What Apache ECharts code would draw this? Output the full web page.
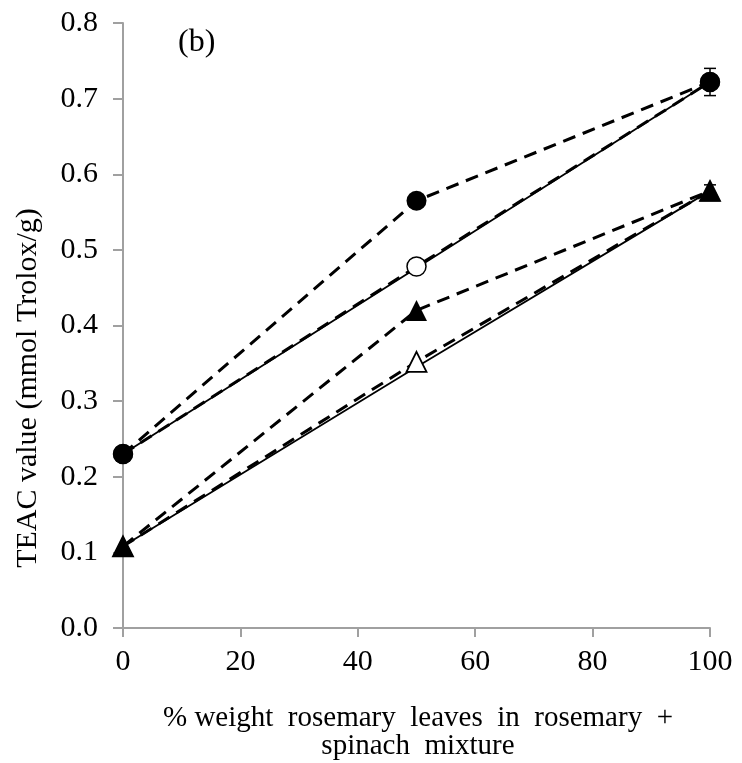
<!DOCTYPE html>
<html>
<head>
<meta charset="utf-8">
<script src="https://cdn.jsdelivr.net/npm/echarts@6/dist/echarts.min.js"></script>
<style>
  html, body { margin: 0; padding: 0; background: #fff; }
  #chart { width: 742px; height: 763px; }
</style>
</head>
<body>
<div id="chart"></div>
<script>
// % weight of rosemary leaves in the rosemary + spinach mixture
const rosemaryPct = [0, 50, 100];

// TEAC values (mmol Trolox/g)
const circleMeasured = [0.230, 0.565, 0.722];   // filled circles, dashed
const circleExpected = [0.230, 0.478, 0.722];   // open circles
const circleLinear   = [0.230, 0.476, 0.722];   // solid reference line
const triMeasured    = [0.108, 0.420, 0.578];   // filled triangles, dashed
const triExpected    = [0.108, 0.352, 0.578];   // open triangles
const triLinear      = [0.108, 0.345, 0.578];   // solid reference line

// Standard deviations at 100 % rosemary
const circleErr = [0, 0, 0.018];
const triErr    = [0, 0, 0.008];

const xTicks = [0, 20, 40, 60, 80, 100];
const yTicks = [0.0, 0.1, 0.2, 0.3, 0.4, 0.5, 0.6, 0.7, 0.8];

const FONT = "'Liberation Serif', 'Times New Roman', serif";
const AXIS_GREY = '#a0a0a0';

const pairs = vals => rosemaryPct.map((x, i) => [x, vals[i]]);

function errorSeries(vals, errs) {
  const data = rosemaryPct.map((x, i) => [x, vals[i], errs[i]]).filter(d => d[2] > 0);
  return {
    type: 'custom',
    z: 1,
    silent: true,
    data: data,
    renderItem: function (params, api) {
      const x = api.value(0), y = api.value(1), e = api.value(2);
      const top = api.coord([x, y + e]);
      const bot = api.coord([x, y - e]);
      const hw = 6;
      const style = { stroke: '#000', lineWidth: 1.5 };
      return {
        type: 'group',
        children: [
          { type: 'line', shape: { x1: top[0], y1: top[1], x2: bot[0], y2: bot[1] }, style: style },
          { type: 'line', shape: { x1: top[0] - hw, y1: top[1], x2: top[0] + hw, y2: top[1] }, style: style },
          { type: 'line', shape: { x1: bot[0] - hw, y1: bot[1], x2: bot[0] + hw, y2: bot[1] }, style: style }
        ]
      };
    }
  };
}

function lineSeries(vals, opts) {
  return Object.assign({
    type: 'line',
    data: pairs(vals),
    animation: false,
    silent: true,
    showSymbol: true
  }, opts);
}

const dashed = { color: '#000', width: 3, type: [13, 8] };
const solid  = { color: '#000', width: 1.8, type: 'solid' };

const chart = echarts.init(document.getElementById('chart'), null, { renderer: 'canvas' });

chart.setOption({
  animation: false,
  backgroundColor: '#fff',
  grid: { left: 123, right: 32, top: 23, bottom: 135 },
  xAxis: {
    type: 'value',
    min: 0, max: 100, interval: 20,
    axisLine: { show: true, onZero: false, lineStyle: { color: AXIS_GREY, width: 2 } },
    axisTick: { show: true, length: 9, inside: false, lineStyle: { color: AXIS_GREY, width: 2 } },
    splitLine: { show: false },
    axisLabel: {
      margin: 19, color: '#000', fontFamily: FONT, fontSize: 30,
      formatter: v => (xTicks.indexOf(v) >= 0 ? String(v) : '')
    }
  },
  yAxis: {
    type: 'value',
    min: 0, max: 0.8, interval: 0.1,
    axisLine: { show: true, lineStyle: { color: AXIS_GREY, width: 2 } },
    axisTick: { show: true, length: 10, inside: false, lineStyle: { color: AXIS_GREY, width: 2 } },
    splitLine: { show: false },
    axisLabel: {
      margin: 25, color: '#000', fontFamily: FONT, fontSize: 30,
      formatter: v => {
        const t = yTicks.find(k => Math.abs(k - v) < 1e-6);
        return t === undefined ? '' : t.toFixed(1);
      }
    }
  },
  series: [
    errorSeries(circleMeasured, circleErr),
    errorSeries(triMeasured, triErr),
    lineSeries(circleLinear,   { symbol: 'none', lineStyle: solid, z: 2 }),
    lineSeries(triLinear,      { symbol: 'none', lineStyle: solid, z: 2 }),
    lineSeries(circleExpected, { symbol: 'circle', symbolSize: 19, lineStyle: dashed, z: 3,
      itemStyle: { color: '#fff', borderColor: '#000', borderWidth: 1.5 } }),
    lineSeries(triExpected,    { symbol: 'triangle', symbolSize: 20, lineStyle: dashed, z: 3,
      itemStyle: { color: '#fff', borderColor: '#000', borderWidth: 1.8 } }),
    lineSeries(circleMeasured, { symbol: 'circle', symbolSize: 20, lineStyle: dashed, z: 4,
      itemStyle: { color: '#000', borderColor: '#000', borderWidth: 0 } }),
    lineSeries(triMeasured,    { symbol: 'triangle', symbolSize: 21, lineStyle: dashed, z: 4,
      itemStyle: { color: '#000', borderColor: '#000', borderWidth: 0 } })
  ],
  graphic: [
    {
      type: 'text', left: 178, top: 27, z: 10,
      style: { text: '(b)', font: '32px ' + FONT, fill: '#000' }
    },
    {
      type: 'text', z: 10,
      x: 28, y: 388, rotation: Math.PI / 2,
      style: {
        text: 'TEAC value (mmol Trolox/g)', font: '30px ' + FONT, fill: '#000',
        align: 'center', verticalAlign: 'middle'
      }
    },
    {
      type: 'text', z: 10,
      x: 418, y: 718,
      style: {
        text: '% weight  rosemary  leaves  in  rosemary  +', font: '29px ' + FONT, fill: '#000',
        align: 'center', verticalAlign: 'middle'
      }
    },
    {
      type: 'text', z: 10,
      x: 418, y: 746,
      style: {
        text: 'spinach  mixture', font: '29px ' + FONT, fill: '#000',
        align: 'center', verticalAlign: 'middle'
      }
    }
  ]
});
</script>
</body>
</html>
